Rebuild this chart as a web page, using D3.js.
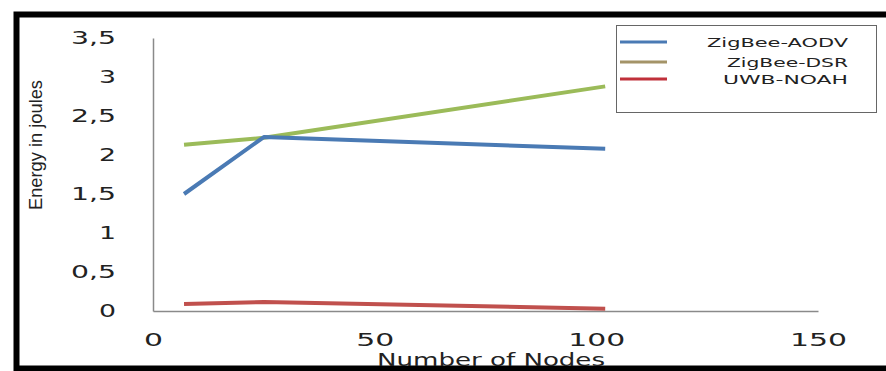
<!DOCTYPE html>
<html><head><meta charset="utf-8">
<script src="https://cdn.jsdelivr.net/npm/d3@7"></script>
<style>body{margin:0;background:#fff}svg{display:block}</style>
</head><body>
<svg id="c" width="886" height="371"></svg>
<script>
// ---- data ----
const nodes = [7, 25, 102];
const zigbeeAODV = [1.5, 2.23, 2.08];
const zigbeeDSR = [2.13, 2.22, 2.88];
const uwbNOAH = [0.09, 0.115, 0.03];
const seriesNames = ["ZigBee-AODV", "ZigBee-DSR", "UWB-NOAH"];
const xTicks = [0, 50, 100, 150];
const yTicks = [0, 0.5, 1, 1.5, 2, 2.5, 3, 3.5];
const yTickLabels = ["0", "0,5", "1", "1,5", "2", "2,5", "3", "3,5"];

const colors = ["#4a7ab4", "#9bbb59", "#c0504d"];
const legendColors = ["#4a7ab4", "#a49468", "#c0303a"];

const svg = d3.select("#c");
svg.append("rect").attr("width", 886).attr("height", 371).attr("fill", "#fff");
// outer frame
svg.append("rect").attr("x", 16.5).attr("y", 14.5).attr("width", 900).attr("height", 354)
  .attr("fill", "none").attr("stroke", "#000").attr("stroke-width", 6);

const x = d3.scaleLinear().domain([0, 150]).range([153, 818]);
const y = d3.scaleLinear().domain([0, 3.5]).range([311, 38]);
const font = "'DejaVu Sans', Verdana, sans-serif";

// y axis
const ya = svg.append("g").attr("transform", "translate(153,0)")
  .call(d3.axisLeft(y).tickValues(yTicks).tickSize(0).tickSizeOuter(0).tickPadding(37)
    .tickFormat((d, i) => yTickLabels[i]));
ya.select(".domain").attr("stroke", "#8a8a8a").attr("stroke-width", 1.5);
ya.selectAll("text").attr("font-family", font).attr("font-size", 17.5).attr("fill", "#222")
  .attr("textLength", (d, i) => yTickLabels[i].length === 1 ? 17 : 45)
  .attr("lengthAdjust", "spacingAndGlyphs");

// x axis
const xa = svg.append("g").attr("transform", "translate(0,311)")
  .call(d3.axisBottom(x).tickValues(xTicks).tickSize(0).tickSizeOuter(0).tickPadding(23));
xa.select(".domain").attr("stroke", "#8a8a8a").attr("stroke-width", 1.5);
xa.selectAll("text").attr("font-family", font).attr("font-size", 17.5).attr("fill", "#222")
  .attr("textLength", d => String(d).length * 19)
  .attr("lengthAdjust", "spacingAndGlyphs");

// axis titles
svg.append("text").attr("x", 491).attr("y", 366).attr("text-anchor", "middle")
  .attr("font-family", font).attr("font-size", 17).attr("fill", "#222")
  .attr("textLength", 228).attr("lengthAdjust", "spacingAndGlyphs").text("Number of Nodes");
svg.append("text").attr("transform", "translate(42,145) rotate(-90)").attr("text-anchor", "middle")
  .attr("font-family", "'Liberation Sans Narrow', 'Liberation Sans', Arial, sans-serif")
  .attr("font-size", 19).attr("fill", "#222")
  .attr("textLength", 130).attr("lengthAdjust", "spacingAndGlyphs").text("Energy in joules");

// lines
const all = [zigbeeAODV, zigbeeDSR, uwbNOAH];
const line = d3.line().x((d, i) => x(nodes[i])).y(d => y(d));
const order = [2, 1, 0];
order.forEach(k => {
  svg.append("path").datum(all[k]).attr("d", line).attr("fill", "none")
    .attr("stroke", colors[k]).attr("stroke-width", 4).attr("stroke-linejoin", "round");
});

// legend
svg.append("rect").attr("x", 616.5).attr("y", 25.5).attr("width", 260).attr("height", 87)
  .attr("fill", "#fff").attr("stroke", "#666").attr("stroke-width", 1);
const legLen = [141, 121, 125];
seriesNames.forEach((n, i) => {
  const ly = [42, 62, 79][i];
  svg.append("line").attr("x1", 620).attr("x2", 667).attr("y1", ly).attr("y2", ly)
    .attr("stroke", legendColors[i]).attr("stroke-width", 3);
  svg.append("text").attr("x", 848).attr("y", ly + 5).attr("text-anchor", "end")
    .attr("font-family", font).attr("font-size", 13).attr("fill", "#222")
    .attr("textLength", legLen[i]).attr("lengthAdjust", "spacingAndGlyphs").text(n);
});
</script>
</body></html>
